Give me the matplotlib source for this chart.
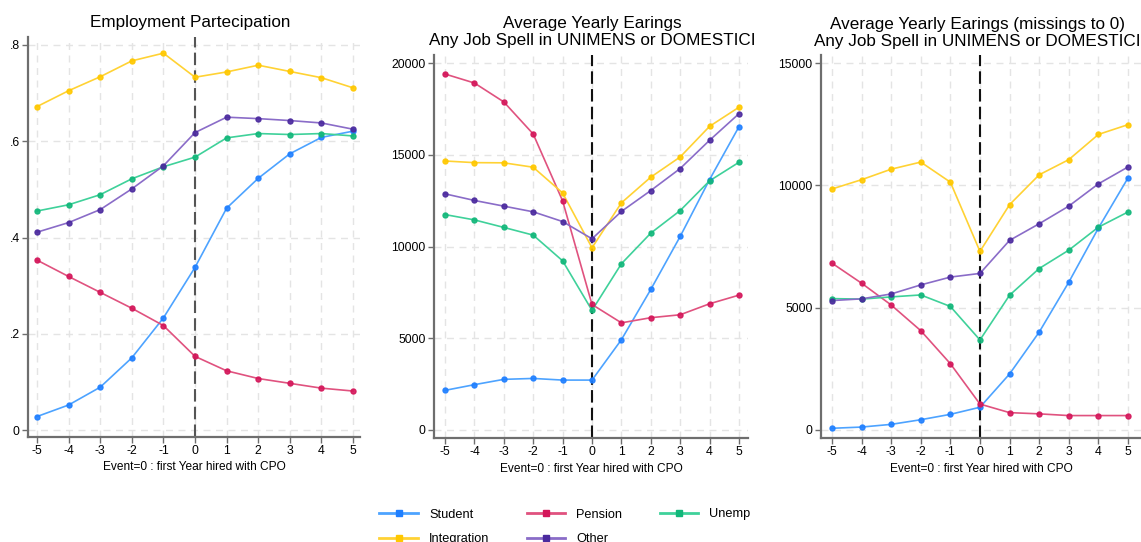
import matplotlib
matplotlib.use("Agg")
import matplotlib.pyplot as plt
from matplotlib.lines import Line2D

plt.rcParams['font.family'] = ['Liberation Sans', 'DejaVu Sans']

event_time = [-5, -4, -3, -2, -1, 0, 1, 2, 3, 4, 5]
groups = ["Student", "Pension", "Unemp", "Integration", "Other"]
line_colors = ["#4da3ff", "#e0527f", "#3fd19a", "#ffd234", "#8a6cc8"]
marker_colors = ["#1f7fff", "#d4165a", "#12b77a", "#ffc800", "#4b2a9e"]

# Employment participation (share employed)
emp_student = [0.028, 0.052, 0.089, 0.150, 0.233, 0.338, 0.461, 0.523, 0.574, 0.608, 0.621]
emp_pension = [0.353, 0.319, 0.286, 0.253, 0.217, 0.153, 0.123, 0.107, 0.097, 0.087, 0.081]
emp_unemp = [0.455, 0.468, 0.489, 0.522, 0.547, 0.567, 0.607, 0.616, 0.614, 0.616, 0.611]
emp_integration = [0.672, 0.705, 0.734, 0.767, 0.783, 0.733, 0.744, 0.758, 0.745, 0.732, 0.711]
emp_other = [0.411, 0.431, 0.458, 0.501, 0.549, 0.618, 0.650, 0.647, 0.643, 0.638, 0.625]

# Average yearly earnings, job spells only
earn_student = [2160, 2470, 2760, 2810, 2720, 2720, 4920, 7660, 10550, 13650, 16530]
earn_pension = [19400, 18910, 17880, 16130, 12490, 6840, 5840, 6120, 6280, 6880, 7350]
earn_unemp = [11740, 11450, 11040, 10620, 9220, 6520, 9060, 10730, 11960, 13580, 14590]
earn_integration = [14660, 14570, 14560, 14320, 12920, 9930, 12380, 13780, 14880, 16550, 17590]
earn_other = [12870, 12510, 12200, 11890, 11360, 10420, 11910, 13050, 14250, 15790, 17240]

# Average yearly earnings, missings set to 0
earn0_student = [70, 120, 230, 420, 640, 930, 2290, 4000, 6040, 8250, 10300]
earn0_pension = [6820, 6000, 5110, 4060, 2710, 1060, 710, 660, 590, 590, 590]
earn0_unemp = [5370, 5350, 5440, 5520, 5050, 3680, 5510, 6600, 7350, 8290, 8910]
earn0_integration = [9850, 10230, 10660, 10950, 10130, 7300, 9210, 10430, 11050, 12080, 12480]
earn0_other = [5290, 5360, 5560, 5930, 6250, 6400, 7750, 8430, 9150, 10060, 10750]

titles = ["Employment Partecipation",
          "Average Yearly Earings\nAny Job Spell in UNIMENS or DOMESTICI",
          "Average Yearly Earings (missings to 0)\nAny Job Spell in UNIMENS or DOMESTICI"]
xlabel = "Event=0 : first Year hired with CPO"

W, H = 1141, 542
fig = plt.figure(figsize=(W / 100, H / 100), dpi=100)


def add_axes(left, right, top, bottom):
    return fig.add_axes([left / W, (H - bottom) / H, (right - left) / W, (bottom - top) / H])


panels = [
    dict(box=(28, 360, 37, 437), xlim=(-5.285, 5.22), ylim=(-0.0145, 0.8166),
         yticks=[0, 0.2, 0.4, 0.6, 0.8], yticklabels=["0", ".2", ".4", ".6", ".8"],
         series=[emp_student, emp_pension, emp_unemp, emp_integration, emp_other],
         vcolor="#555555", title_xy=(190, 23)),
    dict(box=(434, 748, 55, 438), xlim=(-5.374, 5.306), ylim=(-436, 20436),
         yticks=[0, 5000, 10000, 15000, 20000],
         yticklabels=["0", "5000", "10000", "15000", "20000"],
         series=[earn_student, earn_pension, earn_unemp, earn_integration, earn_other],
         vcolor="#111111", title_xy=(592, 32)),
    dict(box=(821, 1141, 55, 438), xlim=(-5.37, 5.44), ylim=(-327, 15327),
         yticks=[0, 5000, 10000, 15000],
         yticklabels=["0", "5000", "10000", "15000"],
         series=[earn0_student, earn0_pension, earn0_unemp, earn0_integration, earn0_other],
         vcolor="#111111", title_xy=(977, 33)),
]

for p, title in zip(panels, titles):
    ax = add_axes(*p["box"])
    ax.set_xlim(*p["xlim"])
    ax.set_ylim(*p["ylim"])
    ax.set_xticks(event_time)
    ax.set_xticklabels([str(t) for t in event_time])
    ax.set_yticks(p["yticks"])
    ax.set_yticklabels(p["yticklabels"])
    ax.grid(True, color="#e4e4e4", linestyle=(0, (5, 4)), linewidth=1.0)
    ax.set_axisbelow(True)
    for side in ("top", "right"):
        ax.spines[side].set_visible(False)
    for side in ("left", "bottom"):
        ax.spines[side].set_color("#6e6e6e")
        ax.spines[side].set_linewidth(1.6)
    ax.tick_params(axis="both", direction="out", length=4, width=1.0,
                   color="#6e6e6e", labelsize=8.8, pad=2)
    ax.axvline(0, color=p["vcolor"], linestyle=(0, (6, 2.5)), linewidth=1.5, zorder=1)
    for vals, lc, mc in zip(p["series"], line_colors, marker_colors):
        ax.plot(event_time, vals, color=lc, linewidth=1.2, zorder=3)
        ax.plot(event_time, vals, linestyle="none", marker="o", markersize=3.6,
                markerfacecolor=mc, markeredgecolor=mc, alpha=0.9, zorder=4)
    tx, ty = p["title_xy"]
    fig.text(tx / W, 1 - ty / H, title, fontsize=12.3, ha="center", va="center",
             linespacing=1.1)
    ax.set_xlabel(xlabel, fontsize=8.6, labelpad=3)

handles = [Line2D([0], [0], color=lc, linewidth=2, marker="s", markersize=5,
                  markerfacecolor=mc, markeredgecolor=mc)
           for lc, mc in zip(line_colors, marker_colors)]
# fill the three-column legend row by row
order = [0, 3, 1, 4, 2]
fig.legend([handles[i] for i in order], [groups[i] for i in order],
           loc="upper center", bbox_to_anchor=(565 / W, 1 - 497 / H),
           ncol=3, frameon=False, fontsize=9.2, handlelength=3.0, columnspacing=2.9,
           handletextpad=0.9, labelspacing=1.0)

fig.savefig("out.png", dpi=100)
